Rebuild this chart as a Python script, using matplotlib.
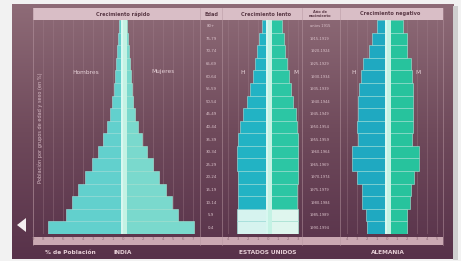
import numpy as np
import matplotlib.pyplot as plt
from matplotlib.colors import LinearSegmentedColormap
from matplotlib.patches import Rectangle, Polygon
from matplotlib.transforms import blended_transform_factory

# age groups, bottom -> top
ages = ["0-4", "5-9", "10-14", "15-19", "20-24", "25-29", "30-34", "35-39",
        "40-44", "45-49", "50-54", "55-59", "60-64", "65-69", "70-74", "75-79", "80+"]
birth_years = ["1990-1994", "1985-1989", "1980-1984", "1975-1979", "1970-1974",
               "1965-1969", "1960-1964", "1955-1959", "1950-1954", "1945-1949",
               "1940-1944", "1935-1939", "1930-1934", "1925-1929", "1920-1924",
               "1915-1919", "antes 1915"]

# % of population
india_men = [7.5, 5.7, 5.1, 4.5, 3.8, 3.1, 2.5, 2.0, 1.6, 1.3, 1.1, 0.9, 0.8, 0.7, 0.6, 0.5, 0.4]
india_women = [7.1, 5.5, 4.9, 4.3, 3.6, 3.0, 2.4, 1.9, 1.5, 1.2, 1.0, 0.85, 0.75, 0.65, 0.55, 0.45, 0.35]
usa_men = [3.1, 3.1, 3.0, 3.0, 3.0, 3.1, 3.1, 3.0, 2.8, 2.5, 2.1, 1.8, 1.5, 1.3, 1.1, 0.9, 0.6]
usa_women = [3.0, 3.0, 2.9, 2.9, 3.0, 3.0, 3.0, 3.0, 2.9, 2.8, 2.5, 2.3, 2.1, 1.9, 1.7, 1.6, 1.4]
ger_men = [2.0, 2.1, 2.5, 2.5, 3.0, 3.5, 3.5, 2.9, 3.0, 2.9, 2.9, 2.8, 2.6, 2.4, 1.8, 1.5, 1.0]
ger_women = [2.0, 2.0, 2.3, 2.4, 2.7, 3.2, 3.2, 2.5, 2.6, 2.6, 2.6, 2.6, 2.5, 2.4, 2.0, 2.0, 1.6]

W, H = 461, 261
PX = 10.0  # pixels per percent

fig = plt.figure(figsize=(W / 100, H / 100), dpi=100)
fig.patch.set_facecolor('#f2f2f2')

bg = fig.add_axes([0, 0, 1, 1], zorder=0)
bg.set_xlim(0, W)
bg.set_ylim(H, 0)
bg.axis('off')
cmap = LinearSegmentedColormap.from_list('panel', ['#8e6b77', '#6f4a5b', '#58324a'])
bg.imshow(np.linspace(0, 1, 200)[:, None], extent=(12, 453, 259, 4), aspect='auto', cmap=cmap)
bg.add_patch(Rectangle((453, 6), 5, 254, color='#cfcfcf', lw=0))
bg.add_patch(Rectangle((33, 8), 410, 12, color='#d9bec6', lw=0))
bg.add_patch(Rectangle((33, 237), 410, 8, color='#cba9b3', lw=0))
for x in [33, 200, 222, 302, 340, 443]:
    bg.plot([x, x], [8, 245], color='#b898a2', lw=0.5, alpha=0.7)
bg.add_patch(Polygon([[17, 225], [26, 218], [26, 232]], color='#f4eef0', lw=0))

hdr = dict(fontsize=3.6, color='#5b3a47', ha='center', va='center', fontweight='bold')
bg.text(123, 14, "Crecimiento rápido", **hdr)
bg.text(211, 14, "Edad", **hdr)
bg.text(266, 14, "Crecimiento lento", **hdr)
bg.text(320, 14, "Año de\nnacimiento", fontsize=2.6, color='#5b3a47', ha='center',
        va='center', fontweight='bold', linespacing=0.9)
bg.text(390, 14, "Crecimiento negativo", **hdr)

low = dict(fontsize=4.2, color='#e6cfd6', va='center', fontweight='bold')
bg.text(45, 252, "% de Población", ha='left', **low)
bg.text(123, 252, "INDIA", ha='center', **low)
bg.text(268, 252, "ESTADOS UNIDOS", ha='center', **low)
bg.text(388, 252, "ALEMANIA", ha='center', **low)
bg.text(40, 128, "Población por grupos de edad y sexo (en %)", rotation=90,
        fontsize=3.6, color='#d8bcc6', ha='center', va='center')

side = dict(fontsize=4.2, color='#e8d4da', ha='center', va='center')
bg.text(86, 72, "Hombres", **side)
bg.text(163, 72, "Mujeres", **side)
for x, t in [(243, "H"), (296, "M"), (354, "H"), (418, "M")]:
    bg.text(x, 72, t, **side)


def pyramid(x0, x1, xc, men, women, c_men, c_women, light_rows=0):
    ax = fig.add_axes([x0 / W, 1 - 234 / H, (x1 - x0) / W, (234 - 20) / H], zorder=2)
    ax.patch.set_alpha(0)
    lo, hi = -(xc - x0) / PX, (x1 - xc) / PX
    ax.set_xlim(lo, hi)
    ax.set_ylim(-0.5, len(ages) - 0.5)
    y = np.arange(len(ages))
    men = np.array(men)
    women = np.array(women)
    cm = [c_men] * len(ages)
    cw = [c_women] * len(ages)
    for i in range(light_rows):
        cm[i] = '#d6f3ef'
        cw[i] = '#dff6ee'
    ax.barh(y, -men, height=1.0, color=cm, edgecolor='#9fe6e0', linewidth=0.4)
    ax.barh(y, women, height=1.0, color=cw, edgecolor='#a6ead8', linewidth=0.4)
    ax.barh(y, -np.minimum(men, 0.25), height=1.0, color='#d8f7f0', linewidth=0)
    ax.barh(y, np.minimum(women, 0.35), height=1.0, color='#c4f2e4', linewidth=0)
    ticks = np.arange(np.ceil(lo), np.floor(hi) + 1)
    ax.set_xticks(ticks)
    ax.set_xticklabels([str(int(abs(t))) for t in ticks])
    ax.tick_params(axis='x', length=0, pad=2.5, labelsize=2.8, labelcolor='#8d6b77')
    ax.set_yticks([])
    ax.grid(axis='x', color='#a5838f', lw=0.4, alpha=0.6)
    ax.set_axisbelow(True)
    for s in ax.spines.values():
        s.set_visible(False)
    return ax


ax_in = pyramid(33, 200, 123, india_men, india_women, '#62d0cd', '#7ad9cd')
ax_us = pyramid(228, 302, 268, usa_men, usa_women, '#22b3c4', '#2cc6a4', light_rows=2)
ax_de = pyramid(340, 443, 387, ger_men, ger_women, '#1fa9c1', '#27c39d')

tr = blended_transform_factory(bg.transData, ax_in.transData)
for i, (a, b) in enumerate(zip(ages, birth_years)):
    bg.text(211, i, a, transform=tr, fontsize=2.8, color='#dcc4cc', ha='center', va='center')
    bg.text(320, i, b, transform=tr, fontsize=2.6, color='#dcc4cc', ha='center', va='center')

fig.savefig('out.png', dpi=100)
